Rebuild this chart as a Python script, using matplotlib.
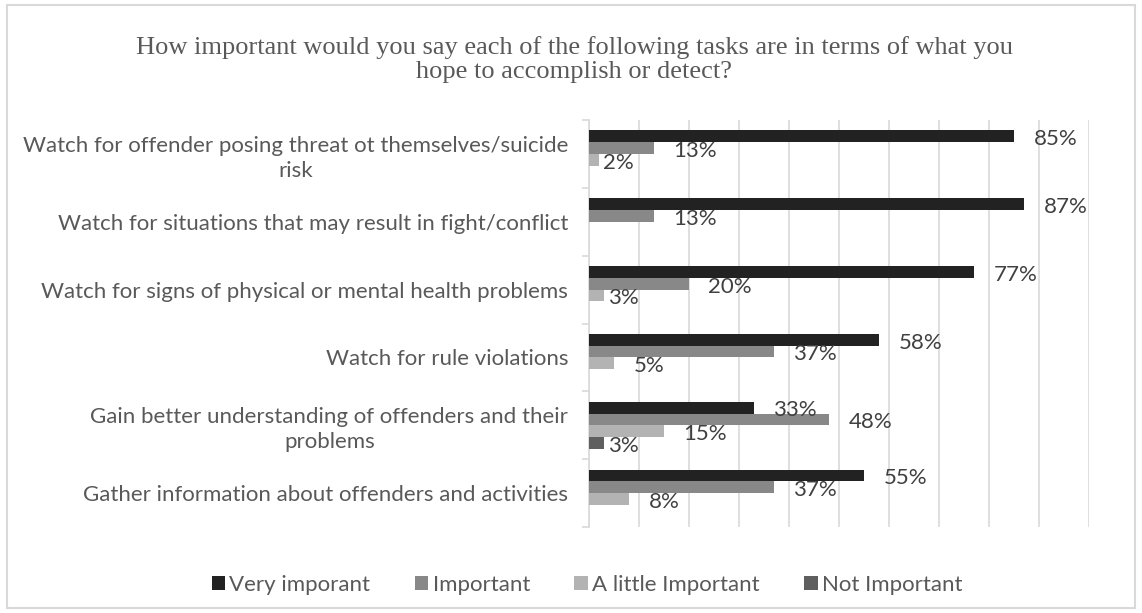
import matplotlib
matplotlib.use("Agg")
import matplotlib.pyplot as plt
import numpy as np
from matplotlib.patches import Rectangle

categories = [
    "Watch for offender posing threat ot themselves/suicide\nrisk",
    "Watch for situations that may result in fight/conflict",
    "Watch for signs of physical or mental health problems",
    "Watch for rule violations",
    "Gain better understanding of offenders and their\nproblems",
    "Gather information about offenders and activities",
]
series_names = ["Very imporant", "Important", "A little Important", "Not Important"]
very_important = [85, 87, 77, 58, 33, 55]
important = [13, 13, 20, 37, 48, 37]
little_important = [2, 0, 3, 5, 15, 8]
not_important = [0, 0, 0, 0, 3, 0]
colors = ["#222222", "#888888", "#b3b3b3", "#5f5f5f"]

title = ("How important would you say each of the following tasks are in terms of what you\n"
         "hope to accomplish or detect?")

text_color = "#595959"
label_font = "Lato"
fs = 16

fig = plt.figure(figsize=(11.42, 6.13), dpi=100)
fig.patches.append(Rectangle((0.006, 0.008), 0.988, 0.984, transform=fig.transFigure,
                             fill=False, edgecolor="#d9d9d9", linewidth=1.5))
ax = fig.add_axes([0.5158, 0.1403, 0.4378, 0.6639])

values = [very_important, important, little_important, not_important]
y = np.arange(len(categories))
h = 0.173
for i, (name, vals, col) in enumerate(zip(series_names, values, colors)):
    pos = y + (i - 1.5) * h
    ax.barh(pos, vals, height=h, color=col, label=name, zorder=3)
    for p, v in zip(pos, vals):
        if v > 0:
            off = 14 if v >= 5 else 3
            ax.annotate(f"{v}%", (v, p), xytext=(off, -2), textcoords="offset points",
                        ha="left", va="center", fontsize=fs, color="#404040",
                        family=label_font, zorder=4)

ax.set_xlim(0, 100)
ax.set_ylim(len(categories) - 0.5, -0.5)
ax.set_xticks(np.arange(0, 101, 10))
ax.xaxis.grid(True, color="#d9d9d9", linewidth=1.2, zorder=0)
ax.tick_params(axis="x", length=0, labelbottom=False)
ax.set_yticks(y)
ax.set_yticklabels(categories, family=label_font, fontsize=fs, color=text_color,
                   linespacing=1.3)
for t in ax.get_yticklabels():
    t.set_multialignment("center")
ax.tick_params(axis="y", length=0, pad=15)
ax.set_yticks(np.arange(-0.5, len(categories) + 0.5, 1), minor=True)
ax.tick_params(axis="y", which="minor", length=5, color="#d9d9d9", width=1.2)
for s in ["top", "right", "bottom"]:
    ax.spines[s].set_visible(False)
ax.spines["left"].set_color("#d9d9d9")
ax.spines["left"].set_linewidth(1.2)

fig.text(0.503, 0.903, title, ha="center", va="center", family="Liberation Serif",
         fontsize=19, color=text_color, linespacing=1.15)

leg = fig.legend(loc="center", bbox_to_anchor=(0.514, 0.046), ncol=4, frameon=False,
                 prop={"family": label_font, "size": fs}, handlelength=0.6,
                 handleheight=0.6, handletextpad=0.2, columnspacing=2.0)
for t in leg.get_texts():
    t.set_color(text_color)

fig.savefig("out.png", dpi=100)
